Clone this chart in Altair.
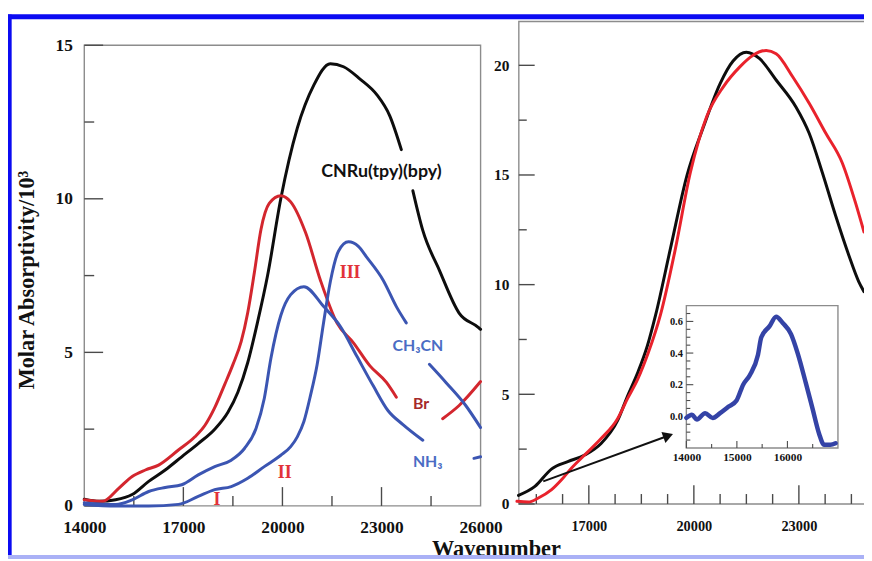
import altair as alt
import pandas as pd

W, H = 864, 553

# ---------------- data ----------------
# Left panel: wavenumber (cm-1) vs molar absorptivity / 10^3
cnru_x = [14000, 14450, 14950, 15450, 15950, 16450, 16950, 17450, 17950, 18350, 18650, 18950,
          19250, 19550, 19950, 20450, 20950, 21450, 21850, 22350, 22850, 23250, 23600,
          23950, 24250, 24750, 25350, 25950, 26000]
cnru_y = [0.22, 0.15, 0.2, 0.37, 0.8, 1.17, 1.6, 2.03, 2.5, 3.05, 3.7, 4.67,
          6.0, 7.5, 10.0, 12.3, 13.7, 14.4, 14.3, 13.9, 13.4, 12.7, 11.6,
          10.26, 8.97, 7.68, 6.28, 5.8, 5.75]
cnru_seg = [1] * 23 + [2] * 6

br_x = [14000, 14550, 15050, 15450, 15850, 16250, 16850, 17350, 17650, 17950, 18250, 18500,
        18750, 18950, 19150, 19350, 19600, 19950, 20250, 20700, 21150, 21650, 22150, 22650,
        23150, 23450,
        24850, 25350, 26000]
br_y = [0.2, 0.15, 0.58, 0.96, 1.17, 1.33, 1.82, 2.25, 2.62, 3.2, 3.95, 4.6,
        5.35, 6.3, 7.6, 9.0, 9.85, 10.1, 9.9, 8.9, 7.35, 5.96, 5.31, 4.56,
        4.02, 3.54,
        2.84, 3.27, 4.05]
br_seg = [1] * 26 + [2] * 3

ch_x = [14000, 14950, 15950, 16850, 17450, 17950, 18450, 18950, 19450, 19950, 20250, 20450,
        20650, 20850, 21050, 21250, 21450, 21700, 22000, 22300, 22550, 23050, 23450, 23750,
        24450, 24950, 25550, 26000]
ch_y = [0.05, 0.0, 0.0, 0.05, 0.31, 0.53, 0.63, 0.9, 1.28, 1.65, 1.93, 2.25,
        2.75, 3.6, 4.6, 6.0, 7.3, 8.3, 8.6, 8.45, 8.1, 7.35, 6.49, 5.96,
        4.61, 4.02, 3.27, 2.55]
ch_seg = [1] * 24 + [2] * 4

nh_x = [14000, 14950, 15450, 15950, 16450, 16950, 17450, 17950, 18450, 18850, 19200, 19450,
        19650, 19950, 20250, 20650, 21250, 21750, 22250, 22750, 23200, 23650, 24250,
        25800, 26000]
nh_y = [0.1, 0.05, 0.2, 0.47, 0.6, 0.69, 1.01, 1.28, 1.49, 1.87, 2.52, 3.5,
        4.8, 6.2, 6.88, 7.14, 6.49, 5.85, 4.88, 3.91, 3.1, 2.65, 2.14,
        1.55, 1.6]
nh_seg = [1] * 23 + [2] * 2

# Right panel
rb_x = [14990, 15460, 15940, 16400, 16880, 17350, 17820, 18100, 18400, 18670, 18910, 19330,
        19800, 20275, 20750, 21120, 21500, 21880, 22350, 22916, 23294, 23671, 24048, 24426,
        24709, 24860]
rb_y = [0.39, 0.8, 1.6, 1.93, 2.23, 2.76, 3.8, 4.9, 6.0, 7.2, 8.63, 11.64,
        14.96, 17.2, 19.17, 20.2, 20.6, 20.3, 19.33, 18.1, 16.9, 15.1, 13.15, 11.34,
        10.14, 9.68]
rr_x = [14946, 15274, 15557, 15936, 16219, 16502, 16878, 17350, 17821, 18104, 18400, 18700,
        19047, 19473, 19898, 20368, 20841, 21313, 21690, 22066, 22350, 22822, 23294, 23765,
        24237, 24614, 24860]
rr_y = [0.12, 0.09, 0.27, 0.65, 1.1, 1.63, 2.23, 2.98, 3.89, 4.8, 5.7, 6.9,
        8.63, 11.64, 15.1, 17.67, 19.02, 19.93, 20.46, 20.68, 20.53, 19.48, 18.27, 16.91,
        15.56, 13.75, 12.4]

# Inset
in_x = [14000, 14110, 14208, 14372, 14522, 14667, 14830, 14993, 15124, 15255, 15418, 15483,
        15647, 15776, 15908, 16071, 16202, 16365, 16496, 16627, 16725, 16850, 16953]
in_y = [-0.01, 0.01, -0.02, 0.02, -0.01, 0.02, 0.06, 0.10, 0.20, 0.26, 0.39, 0.50,
        0.57, 0.63, 0.59, 0.52, 0.40, 0.21, 0.05, -0.11, -0.18, -0.18, -0.17]

# arrow (right panel data coordinates)
arrow_x = [15698, 19267]
arrow_y = [1.03, 3.11]

# annotations (left panel)
chem_lbl = ['CNRu(tpy)(bpy)']
chem_x = [23000]
chem_y = [10.87]
blue_lbl = ['CH\u2083CN', 'NH\u2083']
blue_x = [24100, 24400]
blue_y = [5.2, 1.44]
br_lbl = ['Br']
br_lx = [24200]
br_ly = [3.32]
roman_lbl = ['III', 'II', 'I']
roman_x = [22050, 20070, 18020]
roman_y = [7.57, 1.06, 0.2]

left_xticks = [14000, 17000, 20000, 23000, 26000]
left_yticks = [0, 5, 10, 15]
right_xticks = [17000, 20000, 23000]
right_yticks = [0, 5, 10, 15, 20]
inset_xticks = [14000, 15000, 16000]
inset_yticks = [0.0, 0.2, 0.4, 0.6]

left_xmajor = [17000, 20000, 23000]
left_xminor = [15500, 18500, 21500, 24500]
left_ymajor = [0, 5, 10, 15]
left_yminor = [2.5, 7.5, 12.5]
right_xmajor = [17000, 20000, 23000]
right_xminor = [15500, 16250, 17750, 18500, 19250, 20750, 21500, 22250, 23750, 24500]
right_ymajor = [0, 5, 10, 15, 20]
right_yminor = [2.5, 7.5, 12.5, 17.5]
inset_xmajor = [14000, 15000, 16000]
inset_xminor = [14500, 15500, 16500]
inset_ymajor = [0.0, 0.2, 0.4, 0.6]
inset_yminor = [-0.15, -0.1, -0.05, 0.05, 0.1, 0.15, 0.25, 0.3, 0.35, 0.45, 0.5, 0.55, 0.65]

series_names = ['CNRu(tpy)(bpy)', 'Br', 'CH3CN', 'NH3', 'black (right)', 'red (right)', 'inset']
series_colors = ['#0d0d0d', '#d3262e', '#3b55b2', '#3b55b2', '#0d0d0d', '#e9222c', '#3443a6']

# ---------------- helpers ----------------
SERIF = 'Liberation Serif'
SANS = 'Lato'
TICK = '#4a4a4a'
FRAME = '#8c8c8c'


def line_df(name, xs, ys, segs=None):
    segs = segs if segs is not None else [1] * len(xs)
    return pd.DataFrame({'x': xs, 'y': ys, 'series': name,
                         'seg': [f'{name}-{s}' for s in segs]})


def color_enc():
    return alt.Color('series:N', scale=alt.Scale(domain=series_names, range=series_colors),
                     legend=None)


def make_axis(orient, offset, values, size, pad, fmt='d'):
    return alt.Axis(orient=orient, offset=offset, values=values, format=fmt, title=None,
                    ticks=False, domain=False, grid=False, labelFont=SERIF,
                    labelFontWeight='bold', labelFontSize=size, labelColor='#111111',
                    labelPadding=pad, labelFlush=False, labelOverlap=False)


class Panel:
    def __init__(self, xdom, xrange, ydom, yrange, xaxis, yaxis):
        self.xs = dict(domain=xdom, range=xrange, nice=False, zero=False)
        self.ys = dict(domain=ydom, range=yrange, nice=False, zero=False)
        self.xa = xaxis
        self.ya = yaxis

    def X(self, f='x'):
        return alt.X(f'{f}:Q', scale=alt.Scale(**self.xs), axis=self.xa)

    def Y(self, f='y'):
        return alt.Y(f'{f}:Q', scale=alt.Scale(**self.ys), axis=self.ya)

    def frame(self, x0, x1, y0, y1, fill):
        d = pd.DataFrame({'x': [x0], 'x2': [x1], 'y': [y0], 'y2': [y1]})
        return alt.Chart(d).mark_rect(fill=fill, fillOpacity=1 if fill != 'none' else 0,
                                      stroke=FRAME, strokeWidth=1.4).encode(
            x=self.X(), x2='x2:Q', y=self.Y(), y2='y2:Q')

    def xticks(self, vals, base, length, width=1.4):
        d = pd.DataFrame({'x': vals})
        return alt.Chart(d).mark_rule(color=TICK, strokeWidth=width).encode(
            x=self.X(), y=alt.value(base), y2=alt.value(base - length))

    def yticks(self, vals, base, length, width=1.4):
        d = pd.DataFrame({'y': vals})
        return alt.Chart(d).mark_rule(color=TICK, strokeWidth=width).encode(
            y=self.Y(), x=alt.value(base), x2=alt.value(base + length))

    def lines(self, df, width):
        return alt.Chart(df).mark_line(strokeWidth=width, interpolate='monotone',
                                       strokeCap='round', strokeJoin='round').encode(
            x=self.X(), y=self.Y(), color=color_enc(), detail='seg:N')

    def text(self, labels, xs, ys, **kw):
        d = pd.DataFrame({'x': xs, 'y': ys, 't': labels})
        return alt.Chart(d).mark_text(**kw).encode(x=self.X(), y=self.Y(), text='t:N')


# ---------------- left panel ----------------
L = Panel([14000, 26000], [77, 477], [0, 15], [500, 35],
          make_axis('bottom', -(H - 500), left_xticks, 17.5, 13),
          make_axis('left', -77, left_yticks, 17.5, 12))

left_lines = pd.concat([
    line_df('CNRu(tpy)(bpy)', cnru_x, cnru_y, cnru_seg),
    line_df('Br', br_x, br_y, br_seg),
    line_df('CH3CN', ch_x, ch_y, ch_seg),
    line_df('NH3', nh_x, nh_y, nh_seg),
])

left = alt.layer(
    L.frame(14000, 26000, 0, 15, 'none'),
    L.xticks(left_xmajor, 500, 19), L.xticks(left_xminor, 500, 10),
    L.yticks(left_ymajor, 77, 19), L.yticks(left_yminor, 77, 10),
    L.lines(left_lines, 3),
    L.text(chem_lbl, chem_x, chem_y, font=SANS, fontWeight='bold', fontSize=18,
           color='#111111'),
    L.text(blue_lbl, blue_x, blue_y, font=SANS, fontWeight='bold', fontSize=16,
           color='#4a6cc4'),
    L.text(br_lbl, br_lx, br_ly, font=SANS, fontWeight='bold', fontSize=16, color='#a52a2a'),
    L.text(roman_lbl, roman_x, roman_y, font=SERIF, fontWeight='bold', fontSize=18,
           color='#e2323a'),
)

# ---------------- right panel ----------------
R = Panel([15000, 24860], [515.6, 864], [0, 22], [498, 11],
          make_axis('bottom', -(H - 498), right_xticks, 14.5, 16),
          make_axis('left', -515.6, right_yticks, 15.5, 10))

right_lines = pd.concat([
    line_df('black (right)', rb_x, rb_y),
    line_df('red (right)', rr_x, rr_y),
])
arrow_df = pd.DataFrame({'x': arrow_x, 'y': arrow_y})
head_df = arrow_df.tail(1)

right = alt.layer(
    R.frame(15000, 25200, 0, 22, 'none'),
    R.xticks(right_xmajor, 498, 19), R.xticks(right_xminor, 498, 10),
    R.yticks(right_ymajor, 515.6, 16), R.yticks(right_yminor, 515.6, 8),
    R.lines(right_lines, 3),
    alt.Chart(arrow_df).mark_line(color='#111111', strokeWidth=2).encode(x=R.X(), y=R.Y()),
    alt.Chart(head_df).mark_point(shape='triangle-up', filled=True, color='#111111',
                                  size=140, angle=70, opacity=1).encode(x=R.X(), y=R.Y()),
)

# ---------------- inset ----------------
I = Panel([14000, 17000], [684.7, 837.7], [-0.2, 0.7], [441.5, 297.8],
          make_axis('bottom', -(H - 441.5), inset_xticks, 11.5, 4),
          make_axis('left', -684.7, inset_yticks, 10.5, 4, fmt='.1f'))

inset = alt.layer(
    I.frame(14000, 17000, -0.2, 0.7, 'white'),
    I.xticks(inset_xmajor, 441.5, 7, 1.1), I.xticks(inset_xminor, 441.5, 4, 1.1),
    I.yticks(inset_ymajor, 684.7, 7, 1.1), I.yticks(inset_yminor, 684.7, 4, 1.1),
    I.lines(line_df('inset', in_x, in_y), 4.5),
)

# ---------------- decoration: titles & outer frame ----------------
one = pd.DataFrame({'t': ['Molar Absorptivity/10\u00b3']})
two = pd.DataFrame({'t': ['Wavenumber']})
deco = alt.layer(
    alt.Chart(one).mark_text(angle=270, font=SERIF, fontWeight='bold', fontSize=22.5,
                             color='#111111', baseline='middle', align='center').encode(
        x=alt.value(19), y=alt.value(272), text='t:N'),
    alt.Chart(two).mark_text(font=SERIF, fontWeight='bold', fontSize=22.5, color='#111111',
                             baseline='alphabetic', align='center').encode(
        x=alt.value(493), y=alt.value(550.5), text='t:N'),
    alt.Chart(one).mark_rule(color='#0b0bf2', strokeWidth=5).encode(
        x=alt.value(0), x2=alt.value(W), y=alt.value(6.2)),
    alt.Chart(one).mark_rule(color='#0b0bf2', strokeWidth=5).encode(
        x=alt.value(1.2), y=alt.value(4), y2=alt.value(H)),
    alt.Chart(one).mark_rule(color='#aab1f6', strokeWidth=4).encode(
        x=alt.value(0), x2=alt.value(W), y=alt.value(551.5)),
)

chart = alt.layer(left, right, inset, deco).resolve_scale(
    x='independent', y='independent').resolve_axis(
    x='independent', y='independent').properties(
    width=W, height=H, padding=0, autosize=alt.AutoSizeParams(type='none'),
    background='white').configure_view(stroke=None)

chart.save('out.html', embed_options={'renderer': 'svg', 'actions': False})
